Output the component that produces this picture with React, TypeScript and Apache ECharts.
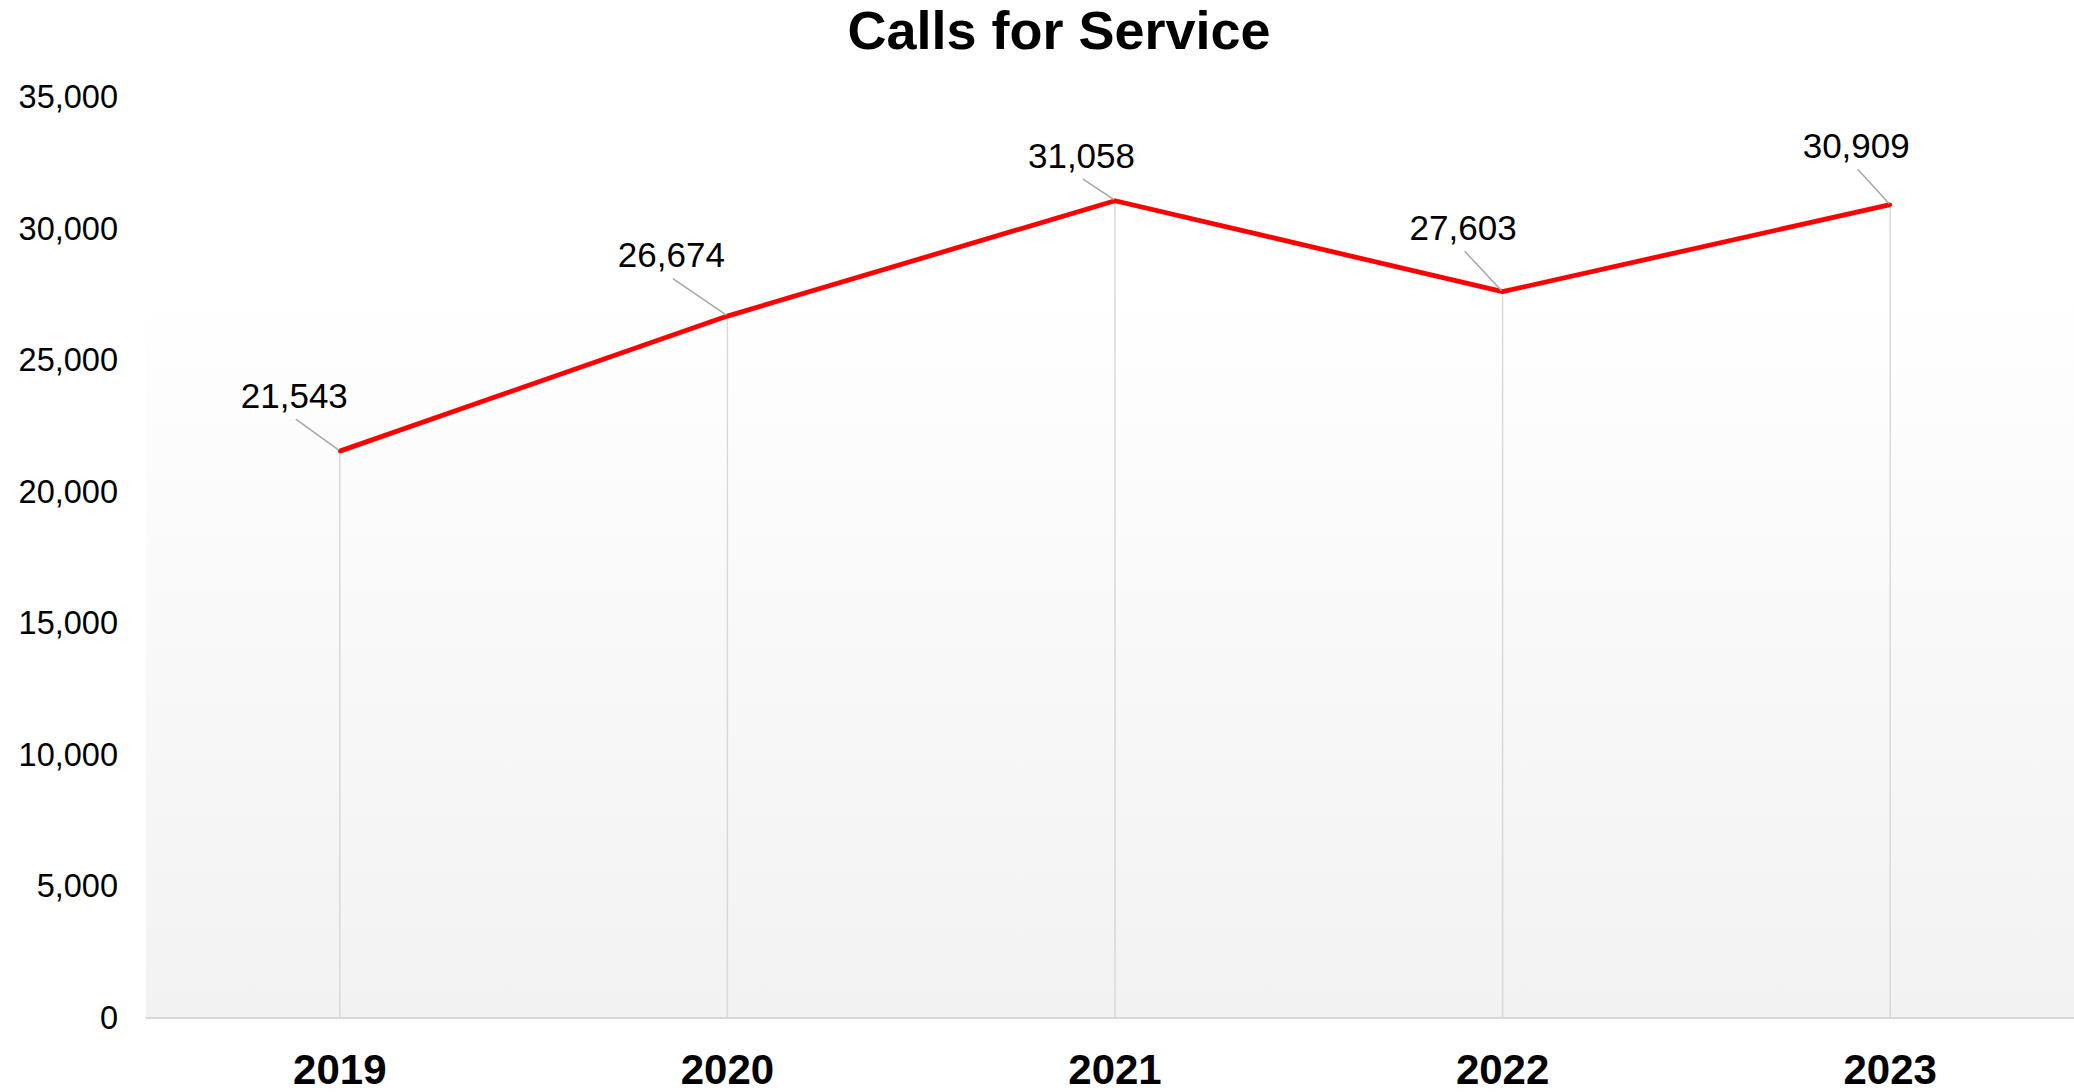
import React, { useEffect, useRef } from "react";
import * as echarts from "echarts";

const categories = ["2019", "2020", "2021", "2022", "2023"];
const calls = [21543, 26674, 31058, 27603, 30909];
const yTicks = { min: 0, max: 35000, interval: 5000 };
// label centre offsets (style) relative to each point, in px
const labelOffsets = [
  [-45.5, -56],
  [-56, -61.5],
  [-33.5, -45.5],
  [-39.5, -64.5],
  [-34, -59.5],
];

const FONT = '"Liberation Sans", Arial, sans-serif';
const fmt = (v: number) => Number(v).toLocaleString("en-US");

export default function App() {
  const ref = useRef<HTMLDivElement>(null);
  useEffect(() => {
    document.body.style.margin = "0";
    document.body.style.overflow = "hidden";
    document.documentElement.style.overflow = "hidden";
    const chart = echarts.init(ref.current!, undefined, { renderer: "svg" });
    chart.setOption({
      animation: false,
      backgroundColor: "#ffffff",
      title: {
        text: "Calls for Service",
        left: 1054,
        top: -2,
        textAlign: "center",
        textStyle: { fontFamily: FONT, fontSize: 54, fontWeight: "bold", color: "#000" },
      },
      grid: {
        left: 146,
        right: 0,
        top: 97,
        bottom: 74,
        show: true,
        borderWidth: 0,
        backgroundColor: new echarts.graphic.LinearGradient(0, 0, 0, 1, [
          { offset: 0, color: "#ffffff" },
          { offset: 0.2, color: "#ffffff" },
          { offset: 1, color: "#f2f2f2" },
        ]),
      },
      xAxis: {
        type: "category",
        data: categories,
        boundaryGap: true,
        axisLine: { show: true, lineStyle: { color: "#d9d9d9", width: 2 } },
        axisTick: { show: false },
        splitLine: { show: false },
        axisLabel: {
          fontFamily: FONT,
          fontSize: 42,
          fontWeight: "bold",
          color: "#000",
          margin: 30,
        },
      },
      yAxis: {
        type: "value",
        min: yTicks.min,
        max: yTicks.max,
        interval: yTicks.interval,
        axisLine: { show: false },
        axisTick: { show: false },
        splitLine: { show: false },
        axisLabel: {
          fontFamily: FONT,
          fontSize: 32.5,
          color: "#000",
          margin: 28,
          formatter: (v: number) => fmt(v),
        },
      },
      series: [
        {
          type: "bar",
          data: calls,
          barWidth: 1.5,
          itemStyle: { color: "#d9d9d9" },
          z: 1,
          silent: true,
        },
        {
          type: "line",
          data: calls,
          z: 3,
          symbol: "circle",
          symbolSize: 4,
          itemStyle: { color: "#ff0000" },
          lineStyle: { color: "#ff0000", width: 4.8 },
        },
        {
          type: "custom",
          coordinateSystem: "cartesian2d",
          data: calls.map((v, i) => [i, v]),
          encode: { x: 0, y: 1 },
          z: 4,
          silent: true,
          renderItem: (params: any, api: any) => {
            const p = api.coord([api.value(0), api.value(1)]);
            const o = labelOffsets[params.dataIndex] || [0, -40];
            const cx = p[0] + o[0];
            const cy = p[1] + o[1];
            return {
              type: "group",
              children: [
                {
                  type: "line",
                  shape: { x1: cx + 1.5, y1: cy + 24, x2: p[0] - 1, y2: p[1] - 1 },
                  style: { stroke: "#a6a6a6", lineWidth: 1.5 },
                },
                {
                  type: "text",
                  x: cx,
                  y: cy,
                  style: {
                    text: fmt(api.value(1)),
                    fontFamily: FONT,
                    fontSize: 35,
                    fill: "#000",
                    align: "center",
                    verticalAlign: "middle",
                  },
                },
              ],
            };
          },
        },
      ],
    });
    return () => chart.dispose();
  }, []);
  return <div ref={ref} style={{ width: 2084, height: 1092 }} />;
}
